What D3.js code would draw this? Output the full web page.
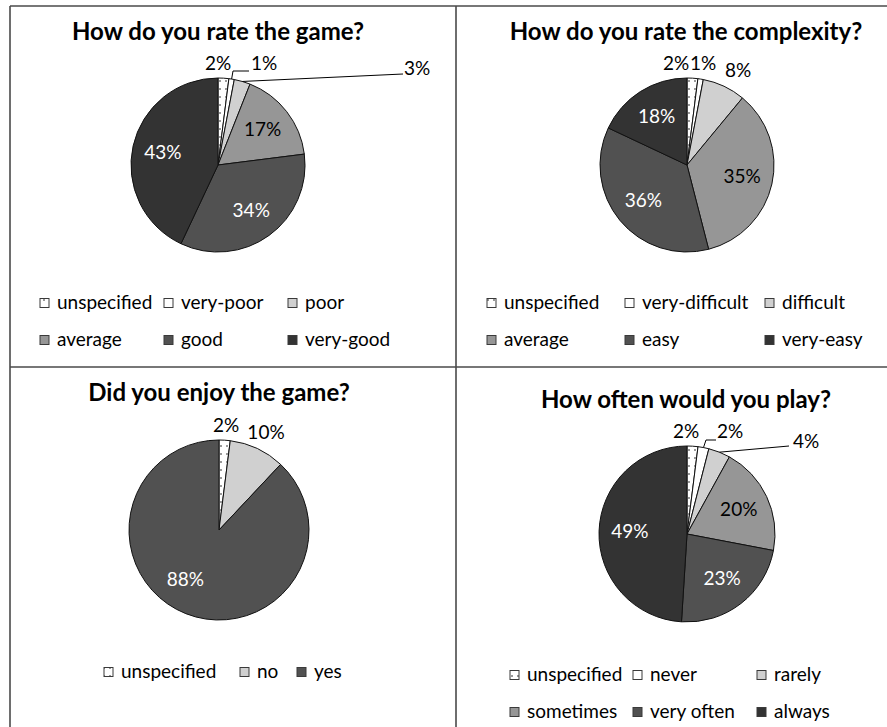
<!DOCTYPE html>
<html>
<head>
<meta charset="utf-8">
<script src="https://cdn.jsdelivr.net/npm/d3@7"></script>
<style>
  html, body { margin: 0; padding: 0; background: #fff; }
  svg { display: block; }
  text { font-family: Lato, "Open Sans", sans-serif; }
</style>
</head>
<body>
<svg id="chart" width="887" height="727"></svg>
<script>
// Survey answers, in percent, in the order the slices run clockwise from 12 o'clock
const rateCats = ["unspecified", "very-poor", "poor", "average", "good", "very-good"];
const rateVals = [2, 1, 3, 17, 34, 43];

const complexCats = ["unspecified", "very-difficult", "difficult", "average", "easy", "very-easy"];
const complexVals = [2, 1, 8, 35, 36, 18];

const enjoyCats = ["unspecified", "no", "yes"];
const enjoyVals = [2, 10, 88];

const playCats = ["unspecified", "never", "rarely", "sometimes", "very often", "always"];
const playVals = [2, 2, 4, 20, 23, 49];

const titles = [
  "How do you rate the game?",
  "How do you rate the complexity?",
  "Did you enjoy the game?",
  "How often would you play?"
];

// Grey ramp shared by the six-answer questions
const greys6 = ["url(#dots)", "#ffffff", "#d0d0d0", "#969696", "#515151", "#333333"];
const greys3 = ["url(#dots)", "#d0d0d0", "#515151"];
const darkText = ["#000", "#000", "#000", "#000", "#fff", "#fff"];
const darkText3 = ["#000", "#000", "#fff"];

const svg = d3.select("#chart");

// dotted fill for "unspecified"
const defs = svg.append("defs");
const pat = defs.append("pattern")
  .attr("id", "dots").attr("patternUnits", "userSpaceOnUse")
  .attr("width", 6).attr("height", 8);
pat.append("rect").attr("width", 6).attr("height", 8).attr("fill", "#fff");
pat.append("circle").attr("cx", 2).attr("cy", 4).attr("r", 0.75).attr("fill", "#000");

// panel grid lines
const grid = svg.append("g").attr("stroke", "#4a4a4a").attr("stroke-width", 1.6);
grid.append("line").attr("x1", 10).attr("x2", 10).attr("y1", 6).attr("y2", 727);
grid.append("line").attr("x1", 10).attr("x2", 887).attr("y1", 6).attr("y2", 6);
grid.append("line").attr("x1", 456).attr("x2", 456).attr("y1", 6).attr("y2", 727);
grid.append("line").attr("x1", 10).attr("x2", 887).attr("y1", 367).attr("y2", 367);

const panels = [
  {
    cats: rateCats, vals: rateVals, colors: greys6, txt: darkText, title: titles[0],
    titleX: 218, titleY: 40, cx: 218, cy: 165, r: 87,
    outside: {
      0: { x: 218, y: 70 },
      1: { x: 264, y: 70, leader: [[233, 71], [249, 71]] },
      2: { x: 417, y: 75, leader: [[403, 74]] }
    },
    nudge: {},
    legend: { x0: 40, cols: [0, 124, 248], rows: [303, 340], perRow: 3 }
  },
  {
    cats: complexCats, vals: complexVals, colors: greys6, txt: darkText, title: titles[1],
    titleX: 686, titleY: 40, cx: 687, cy: 165, r: 87,
    outside: {
      0: { x: 676, y: 70 },
      1: { x: 703, y: 70 },
      2: { x: 738, y: 77 }
    },
    nudge: {},
    legend: { x0: 487, cols: [0, 138, 278], rows: [303, 340], perRow: 3 }
  },
  {
    cats: enjoyCats, vals: enjoyVals, colors: greys3, txt: darkText3, title: titles[2],
    titleX: 219, titleY: 401, cx: 219, cy: 530, r: 90,
    outside: {
      0: { x: 226, y: 432 },
      1: { x: 266, y: 439 }
    },
    nudge: { 2: [-12, -4] },
    legend: { x0: 104, cols: [0, 136, 193], rows: [672], perRow: 3 }
  },
  {
    cats: playCats, vals: playVals, colors: greys6, txt: darkText, title: titles[3],
    titleX: 686, titleY: 408, cx: 687, cy: 534, r: 88,
    outside: {
      0: { x: 686, y: 438 },
      1: { x: 730, y: 438, leader: [[706, 440], [716, 440]] },
      2: { x: 806, y: 448, leader: [[789, 446]] }
    },
    nudge: {},
    legend: { x0: 510, cols: [0, 123, 247], rows: [675, 712], perRow: 3 }
  }
];

const pie = d3.pie().sort(null).value(d => d);

panels.forEach(p => {
  const g = svg.append("g");

  g.append("text")
    .attr("x", p.titleX).attr("y", p.titleY)
    .attr("text-anchor", "middle")
    .attr("font-size", 24).attr("font-weight", 700)
    .attr("fill", "#000")
    .text(p.title);

  const arcs = pie(p.vals);
  const arc = d3.arc().innerRadius(0).outerRadius(p.r);
  const labelArc = d3.arc().innerRadius(p.r * 0.65).outerRadius(p.r * 0.65);
  const edgeArc = d3.arc().innerRadius(p.r).outerRadius(p.r);

  const pieG = g.append("g").attr("transform", `translate(${p.cx},${p.cy})`);
  pieG.selectAll("path").data(arcs).join("path")
    .attr("d", arc)
    .attr("fill", (d, i) => p.colors[i])
    .attr("stroke", "#111").attr("stroke-width", 1)
    .attr("stroke-linejoin", "round");

  // percentage labels
  arcs.forEach((d, i) => {
    const label = d.data + "%";
    const out = p.outside[i];
    if (out) {
      if (out.leader) {
        const [ex, ey] = edgeArc.centroid(d);
        const pts = [[p.cx + ex, p.cy + ey]].concat(out.leader);
        g.append("path")
          .attr("d", d3.line()(pts))
          .attr("fill", "none").attr("stroke", "#000").attr("stroke-width", 1);
      }
      g.append("text")
        .attr("x", out.x).attr("y", out.y)
        .attr("text-anchor", "middle")
        .attr("font-size", 19).attr("fill", "#000")
        .text(label);
    } else {
      const [lx, ly] = labelArc.centroid(d);
      const [nx, ny] = p.nudge[i] || [0, 0];
      g.append("text")
        .attr("x", p.cx + lx + nx).attr("y", p.cy + ly + 6 + ny)
        .attr("text-anchor", "middle")
        .attr("font-size", 19).attr("fill", p.txt[i])
        .text(label);
    }
  });

  // legend
  const L = p.legend;
  p.cats.forEach((c, i) => {
    const row = Math.floor(i / L.perRow), col = i % L.perRow;
    const x = L.x0 + L.cols[col], y = L.rows[row];
    g.append("rect")
      .attr("x", x).attr("y", y - 4.5)
      .attr("width", 9).attr("height", 9)
      .attr("fill", p.colors[i])
      .attr("stroke", "#3a3a3a").attr("stroke-width", 1);
    g.append("text")
      .attr("x", x + 17).attr("y", y + 6)
      .attr("font-size", 19).attr("fill", "#000")
      .text(c);
  });
});
</script>
</body>
</html>
